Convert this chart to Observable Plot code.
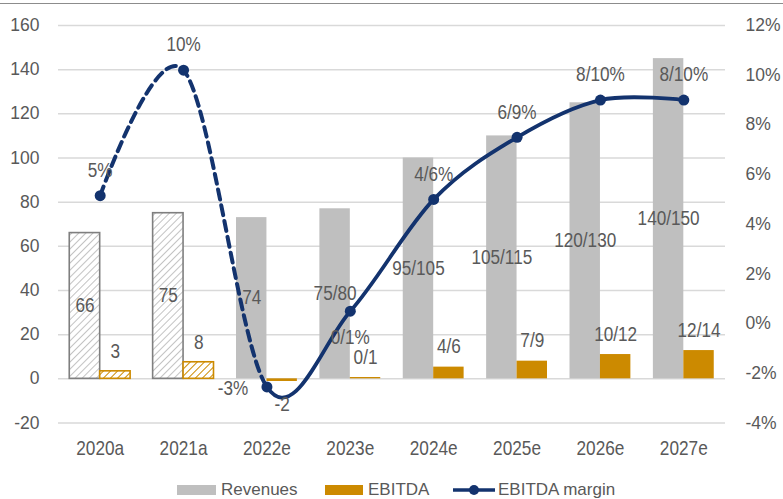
<!DOCTYPE html>
<html><head><meta charset="utf-8">
<script src="https://cdn.jsdelivr.net/npm/d3@7"></script>
<script src="https://cdn.jsdelivr.net/npm/@observablehq/plot@0.6"></script>
<style>
html,body{margin:0;padding:0;background:#fff;width:783px;height:499px;overflow:hidden;font-family:"Liberation Sans",Arial,sans-serif;}
#wrap{position:relative;width:783px;height:499px;}
#topline{position:absolute;left:0;top:3px;width:783px;height:1px;background:#8c8c8c;}
#chart{position:absolute;left:0;top:0;}
.legtxt{position:absolute;top:481px;font-size:17px;line-height:17px;color:#595959;white-space:nowrap;}
.sw{position:absolute;}
</style></head><body>
<div id="wrap"><div id="chart"></div><div id="topline"></div><div id="legend"></div></div>
<script>
// ---- data ----
const categories = ["2020a","2021a","2022e","2023e","2024e","2025e","2026e","2027e"];
const revenues = [66, 75, 73, 77, 100, 110, 125, 145];
const ebitda = [3.4, 7.5, -1.2, 0.6, 5.3, 8, 11, 12.8];
const margin = [5.15, 10.2, -2.55, 0.5, 5.0, 7.5, 9.0, 9.0];
const revenueLabels = ["66","75","74","75/80","95/105","105/115","120/130","140/150"];
const ebitdaLabels = ["3","8","-2","0/1","4/6","7/9","10/12","12/14"];
const marginLabels = ["5%","10%","-3%","0/1%","4/6%","6/9%","8/10%","8/10%"];
const leftTicks = [-20, 0, 20, 40, 60, 80, 100, 120, 140, 160];
const rightTicks = [-4, -2, 0, 2, 4, 6, 8, 10, 12];
const legendLabels = ["Revenues", "EBITDA", "EBITDA margin"];

// ---- styles ----
const GRAY = "#bfbfbf", GOLD = "#cc8a00", NAVY = "#13336e", TXT = "#595959";
const W = 0.365; // bar width in category units

// secondary (percent) axis mapped onto the left scale
const lMin = leftTicks[0], lMax = leftTicks[leftTicks.length-1];
const rMin = rightTicks[0], rMax = rightTicks[rightTicks.length-1];
const toLeft = p => lMin + (p - rMin) * (lMax - lMin) / (rMax - rMin);
const fromLeft = v => rMin + (v - lMin) * (rMax - rMin) / (lMax - lMin);

const data = categories.map((c, i) => ({
  i, cat: c, actual: c.endsWith("a"),
  rev: revenues[i], eb: ebitda[i], m: margin[i], mY: toLeft(margin[i]),
  revL: revenueLabels[i], ebL: ebitdaLabels[i], mL: marginLabels[i]
}));
const act = data.filter(d => d.actual), est = data.filter(d => !d.actual);

const svg = Plot.plot({
  width: 783, height: 472,
  marginLeft: 58, marginRight: 58, marginTop: 25, marginBottom: 49.5,
  x: {domain: [-0.5, categories.length - 0.5], label: null},
  y: {domain: [lMin, lMax], label: null},
  style: {fontFamily: '"Liberation Sans", Arial, sans-serif', fontSize: "17.5px", color: TXT, background: "transparent", overflow: "visible"},
  marks: [
    Plot.gridY(leftTicks, {stroke: "#d9d9d9", strokeOpacity: 1, strokeWidth: 1.5}),
    Plot.rect(est, {x1: d => d.i - W, x2: d => d.i, y1: d => 0, y2: "rev", fill: GRAY}),
    Plot.rect(act, {x1: d => d.i - W, x2: d => d.i, y1: d => 0, y2: "rev", fill: "url(#hatchGray)", stroke: "#7f7f7f", strokeWidth: 1.6}),
    Plot.rect(est, {x1: d => d.i, x2: d => d.i + W, y1: d => 0, y2: "eb", fill: GOLD}),
    Plot.rect(act, {x1: d => d.i, x2: d => d.i + W, y1: d => 0, y2: "eb", fill: "url(#hatchGold)", stroke: GOLD, strokeWidth: 1.6}),
    Plot.line(data, {x: "i", y: "mY", curve: "cardinal", stroke: NAVY, strokeWidth: 4, strokeDasharray: "10,6"}),
    Plot.line(data, {x: "i", y: "mY", curve: "cardinal", stroke: NAVY, strokeWidth: 3.8}),
    Plot.dot(data, {x: "i", y: "mY", r: 5.5, fill: NAVY, stroke: "none"}),
    Plot.text(data, {x: d => d.i - W/2, y: d => d.rev / 2, text: "revL", fontSize: 19.5, fill: TXT}),
    Plot.text(data.filter(d => d.eb >= 0), {x: d => d.i + W/2, y: "eb", dy: -20, text: "ebL", fontSize: 19.5, fill: TXT}),
    Plot.text(data.filter(d => d.eb < 0), {x: d => d.i + W/2, y: "eb", dy: 23, text: "ebL", fontSize: 19.5, fill: TXT}),
    Plot.text(data.filter(d => d.i !== 2 && d.i !== 3), {x: "i", y: "mY", dy: -25, text: "mL", fontSize: 19.5, fill: TXT}),
    Plot.text(data.filter(d => d.i === 2), {x: "i", y: "mY", dx: -34, dy: 2, text: "mL", fontSize: 19.5, fill: TXT}),
    Plot.text(data.filter(d => d.i === 3), {x: "i", y: "mY", dy: 27, text: "mL", fontSize: 19.5, fill: TXT}),
    Plot.axisY(leftTicks, {anchor: "left", tickSize: 0, tickPadding: 19, fontSize: 17.5, label: null,
      tickFormat: v => String(v)}),
    Plot.axisY(rightTicks.map(toLeft), {anchor: "right", tickSize: 0, tickPadding: 20, fontSize: 17.5, label: null,
      tickFormat: v => Math.round(fromLeft(v)) + "%"}),
    Plot.axisX(d3.range(categories.length), {anchor: "bottom", tickSize: 0, tickPadding: 17.5, fontSize: 21, label: null,
      tickFormat: i => categories[i]})
  ]
});
document.getElementById("chart").appendChild(svg);

// patterns + clip paths
const NS = "http://www.w3.org/2000/svg";
const defs = document.createElementNS(NS, "defs");
const xBreak = svg.scale("x").apply(2);
defs.innerHTML = `
  <pattern id="hatchGray" width="5" height="5" patternUnits="userSpaceOnUse" patternTransform="rotate(45)">
    <rect width="5" height="5" fill="#fff"/><line x1="0" y1="0" x2="0" y2="5" stroke="#b4b4b4" stroke-width="1.6"/>
  </pattern>
  <pattern id="hatchGold" width="5" height="5" patternUnits="userSpaceOnUse" patternTransform="rotate(45)">
    <rect width="5" height="5" fill="#fff"/><line x1="0" y1="0" x2="0" y2="5" stroke="${GOLD}" stroke-width="2"/>
  </pattern>
  <clipPath id="clipL"><rect x="0" y="0" width="${xBreak}" height="472"/></clipPath>
  <clipPath id="clipR"><rect x="${xBreak}" y="0" width="${783 - xBreak}" height="472"/></clipPath>`;
svg.insertBefore(defs, svg.firstChild);
const lines = svg.querySelectorAll('g[aria-label="line"]');
if (lines.length >= 2) {
  lines[0].setAttribute("clip-path", "url(#clipL)");
  lines[1].setAttribute("clip-path", "url(#clipR)");
}

// condensed look for labels
function condense(sel, f) {
  svg.querySelectorAll(sel).forEach(t => {
    const L = t.getComputedTextLength();
    t.setAttribute("textLength", (L * f).toFixed(1));
    t.setAttribute("lengthAdjust", "spacingAndGlyphs");
  });
}
condense('g[aria-label="x-axis tick label"] text', 0.82);
condense('g[aria-label="text"] text', 0.88);

// legend
const leg = document.getElementById("legend");
leg.innerHTML = `
  <div class="sw" style="left:177px;top:485px;width:39px;height:10px;background:${GRAY}"></div>
  <div class="legtxt" style="left:221px">${legendLabels[0]}</div>
  <div class="sw" style="left:325px;top:485px;width:38px;height:10px;background:${GOLD}"></div>
  <div class="legtxt" style="left:368px">${legendLabels[1]}</div>
  <svg class="sw" style="left:453px;top:480px" width="44" height="20">
    <line x1="0" y1="10" x2="42" y2="10" stroke="${NAVY}" stroke-width="3.5"/>
    <circle cx="21" cy="10" r="5" fill="${NAVY}"/></svg>
  <div class="legtxt" style="left:498px">${legendLabels[2]}</div>`;
</script>
</body></html>
